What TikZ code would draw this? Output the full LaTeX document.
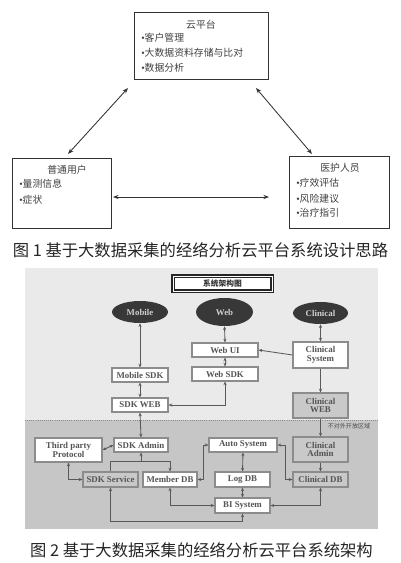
\documentclass[tikz,border=0pt]{standalone}
\usepackage{fontspec}
\newfontfamily\cjk{Noto Sans CJK SC}
\newfontfamily\serifb{Liberation Serif}
\newcommand{\bul}{{\serifb •}}
\usetikzlibrary{shapes.geometric,arrows.meta}
\definecolor{panelL}{HTML}{EAEAEA}
\definecolor{panelD}{HTML}{C6C6C6}
\definecolor{boxline}{HTML}{8C8C8C}
\definecolor{boxtext}{HTML}{555555}
\definecolor{ellfill}{HTML}{383838}
\definecolor{elltext}{HTML}{CFCFCF}
\definecolor{grayfill}{HTML}{C9C9C9}
\tikzset{
  bx/.style 2 args={minimum width=#1*0.025cm, minimum height=#2*0.025cm, inner sep=0pt},
  topbox/.style={draw=black!80, line width=0.7pt, fill=white},
  toptxt/.style={font=\cjk\fontsize{7}{8}\selectfont, text=black!75, inner sep=0pt},
  arr/.style={draw=black!80, line width=0.6pt, {Stealth[length=4pt,width=3pt]}-{Stealth[length=4pt,width=3pt]}},
  sbox/.style={draw=boxline, line width=0.8pt, fill=white, text=boxtext, font=\serifb\bfseries\fontsize{6.3}{7}\selectfont, align=center},
  gbox/.style={sbox, fill=grayfill},
  ell/.style={ellipse, fill=ellfill, text=elltext, font=\serifb\bfseries\fontsize{6.3}{7}\selectfont, inner sep=0pt},
  con/.style={draw=black!65, line width=0.6pt, {Stealth[length=2.6pt,width=2.2pt]}-{Stealth[length=2.6pt,width=2.2pt]}},
  con1/.style={draw=black!65, line width=0.6pt, -{Stealth[length=2.6pt,width=2.2pt]}},
  conp/.style={draw=black!65, line width=0.6pt},
  captxt/.style={font=\cjk\fontsize{11.6}{13}\selectfont, text=black!85, inner sep=0pt}
}
\begin{document}
\begin{tikzpicture}[x=0.025cm, y=-0.025cm]
\useasboundingbox (0,0) rectangle (400,563);
\fill[white] (0,0) rectangle (400,563);

% ---------- Figure 1 ----------
\node[topbox, bx={134}{67}] (cloud) at (201,45.5) {};
\node[toptxt] (cloudT) at (201,25) {云平台};
\node[toptxt, anchor=west] (c1) at (141,38) {\bul 客户管理};
\node[toptxt, anchor=west] (c2) at (141,53) {\bul 大数据资料存储与比对};
\node[toptxt, anchor=west] (c3) at (141,68) {\bul 数据分析};

\node[topbox, bx={99}{70}] (user) at (61.5,193) {};
\node[toptxt] (userT) at (67,170) {普通用户};
\node[toptxt, anchor=west] (u1) at (19,184) {\bul 量测信息};
\node[toptxt, anchor=west] (u2) at (19,200) {\bul 症状};

\node[topbox, bx={100}{72}] (med) at (339,192) {};
\node[toptxt] (medT) at (340,168) {医护人员};
\node[toptxt, anchor=west] (m1) at (296,183) {\bul 疗效评估};
\node[toptxt, anchor=west] (m2) at (296,199) {\bul 风险建议};
\node[toptxt, anchor=west] (m3) at (296,213) {\bul 治疗指引};

\coordinate (a1) at (128,88);
\coordinate (a2) at (68,154);
\coordinate (b1) at (256,88);
\coordinate (b2) at (312,154);
\coordinate (h1) at (113,197);
\coordinate (h2) at (269,197);
\draw[arr] (a1) -- (a2);
\draw[arr] (b1) -- (b2);
\draw[arr] (h1) -- (h2);

\node[captxt] (cap1) at (200.5,250) {图 1 基于大数据采集的经络分析云平台系统设计思路};

% ---------- Figure 2 ----------
\fill[panelL] (25,268) rectangle (378,420);
\fill[panelD] (25,420) rectangle (378,529);
\draw[black!45, densely dotted, line width=0.5pt] (25,420) -- (378,420);

\node[draw=black!85, line width=1.4pt, double=white, double distance=0.5pt, fill=white, bx={99}{15},
      font=\cjk\bfseries\fontsize{5.5}{6}\selectfont, text=black!80] (title) at (222.5,283.5) {系统架构图};

\node[ell, minimum width=56*0.025cm, minimum height=22*0.025cm] (mob) at (140,312) {Mobile};
\node[ell, minimum width=57*0.025cm, minimum height=28*0.025cm] (web) at (224.5,312) {Web};
\node[ell, minimum width=55*0.025cm, minimum height=22*0.025cm] (clin) at (320.5,313) {Clinical};

\node[sbox, bx={66}{14}] (webui) at (225,350) {Web UI};
\node[sbox, bx={66}{14}] (wsdk) at (225,374) {Web SDK};
\node[sbox, bx={56}{14}] (msdk) at (140,375) {Mobile SDK};
\node[sbox, bx={56}{14}] (sdkweb) at (140,405) {SDK WEB};
\node[sbox, bx={55}{26}] (csys) at (320.5,355) {Clinical\\[-1pt]System};
\node[gbox, bx={55}{25}] (cweb) at (320.5,405.5) {Clinical\\[-1pt]WEB};

\node[sbox, bx={67}{24}] (third) at (68.5,450) {Third party\\[-1pt]Protocol};
\node[sbox, bx={54}{14}] (sdkadmin) at (141,445) {SDK Admin};
\node[sbox, bx={68}{14}] (auto) at (243,445) {Auto System};
\node[gbox, bx={55}{25}] (cadmin) at (320.5,449.5) {Clinical\\[-1pt]Admin};
\node[gbox, bx={55}{15}] (sdkserv) at (110.5,479.5) {SDK Service};
\node[sbox, bx={54}{15}] (memdb) at (170,479.5) {Member DB};
\node[sbox, bx={55}{15}] (logdb) at (242.5,479.5) {Log DB};
\node[gbox, bx={55}{15}] (cdb) at (320.5,479.5) {Clinical DB};
\node[sbox, bx={55}{15}] (bi) at (242.5,505.5) {BI System};

\node[font=\cjk\fontsize{4.3}{5}\selectfont, text=black!70, inner sep=0pt] (zone) at (349,426) {不对外开放区域};

% connectors
\draw[con] (mob.south) -- (msdk.north);
\draw[con] (msdk.south) -- (sdkweb.north);
\draw[con] (sdkweb.east) -| (wsdk.south);
\draw[con] (web.south) -- (webui.north);
\draw[con] (webui.south) -- (wsdk.north);
\draw[con] (clin.south) -- (csys.north);
\draw[con1] (csys.west) -- (webui.east);
\draw[con1] (csys.south) -- (cweb.north);
\draw[con] (sdkweb.south) -- (sdkadmin.north);
\draw[con1] (cweb.south) -- (cadmin.north);
\draw[con] (sdkadmin.west) -- (third.east);
\coordinate (fan) at (141,461);
\draw[con1] (fan) -- (sdkadmin.south);
\draw[conp] (fan) -| (sdkserv.north);
\draw[con1] (fan) -| (memdb.north);
\draw[con] (third.south) |- (sdkserv.west);
\draw[con] (memdb.east) -- ++(6,0) |- (auto.west);
\draw[con] (auto.south) -- (logdb.north);
\draw[con] (logdb.south) -- (bi.north);
\draw[con] (auto.east) -- ++(8,0) |- (cdb.west);
\draw[con1] (cadmin.south) -- (cdb.north);
\draw[con] (memdb.south) |- (bi.west);
\draw[con] (cdb.south) |- (bi.east);
\draw[con] (sdkserv.south) -- ++(0,34) -| (bi.south);

\node[captxt] (cap2) at (201.5,550) {图 2 基于大数据采集的经络分析云平台系统架构};
\end{tikzpicture}
\end{document}
